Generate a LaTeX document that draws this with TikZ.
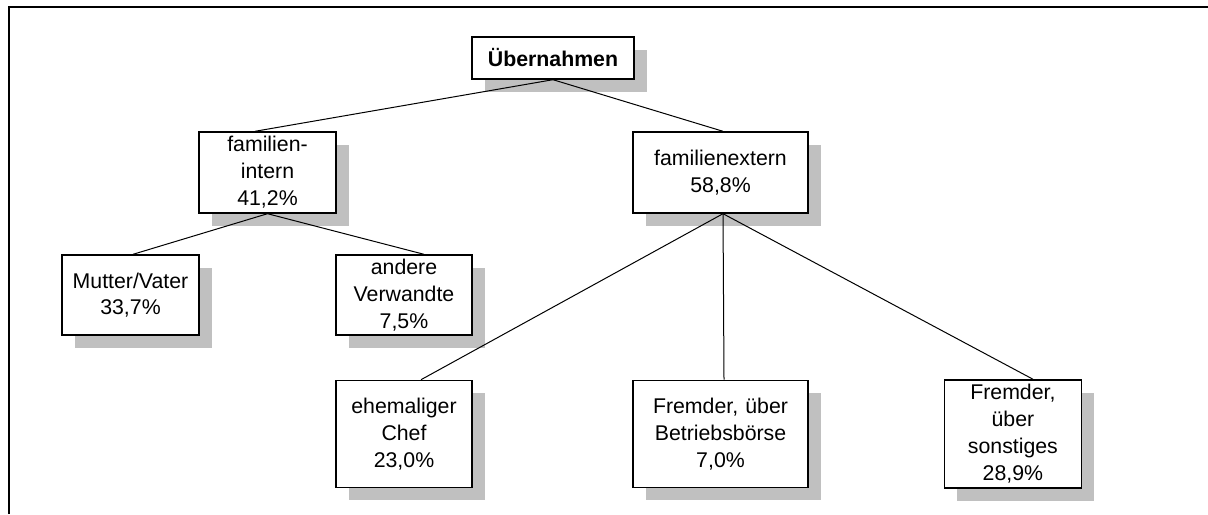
\documentclass[tikz,border=0pt]{standalone}
\usepackage{fontspec}
\setmainfont{Liberation Sans}
\usepackage{tikz}
\usetikzlibrary{positioning, shadows, calc}
\definecolor{shadowgray}{RGB}{192,192,192}
\tikzset{
  x=0.5pt, y=-0.5pt,
  every node/.style={font=\fontsize{10.65pt}{13.5pt}\selectfont},
  orgbox/.style={draw, line width=0.7pt, fill=white, align=center, inner sep=0pt,
    drop shadow={shadow xshift=6.5pt, shadow yshift=-6.5pt, fill=shadowgray, opacity=1}},
  link/.style={line width=0.5pt},
}

\begin{document}
\begin{tikzpicture}
		\useasboundingbox (0,0) rectangle (1208,514);
		\draw[line width=1pt] (9,514) -- (9,7) -- (1208,7);

		% boxes
		\node[orgbox, text width=81pt, minimum height=21pt] (top) at (553,58) {\bfseries Übernahmen};
		\node[orgbox, text width=68.5pt, minimum height=40.5pt] (fi) at (267.5,172.5) {familien-\\intern\\41,2\%};
		\node[orgbox, text width=87.5pt, minimum height=40.5pt] (fe) at (720.5,172.5) {familienextern\\58,8\%};
		\node[orgbox, text width=68.5pt, minimum height=40pt] (mv) at (130.5,295) {Mutter/Vater\\[-0.5pt]33,7\%};
		\node[orgbox, text width=68pt, minimum height=40pt] (av) at (404,295) {andere\\Verwandte\\7,5\%};
		\node[orgbox, text width=68pt, minimum height=53.5pt, below=22pt of av] (ec) {ehemaliger\\Chef\\23,0\%};
		\node[orgbox, text width=87.5pt, minimum height=53.5pt, below=83pt of fe] (fb) {Fremder, über\\Betriebsbörse\\7,0\%};
		\node[orgbox, text width=68.5pt, minimum height=54pt, right=67.5pt of fb] (fs) {Fremder,\\über\\sonstiges\\28,9\%};

		% lines
		\draw[link] (top.south) -- ($(fi.north)+(-6.25pt,0pt)$);
		\draw[link] (top.south) -- ($(fe.north)+(1.25pt,0pt)$);
		\draw[link] (fi.south) -- ($(mv.north)+(1.25pt,0pt)$);
		\draw[link] (fi.south) -- ($(av.north)+(10pt,0pt)$);
		\draw[link] ($(fe.south)+(1.25pt,0pt)$) -- ($(ec.north)+(8.5pt,0pt)$);
		\draw[link] ($(fe.south)+(1.25pt,0pt)$) -- ($(fb.north)+(1.75pt,0pt)$);
		\draw[link] ($(fe.south)+(1.25pt,0pt)$) -- ($(fs.north)+(10pt,0pt)$);

	\end{tikzpicture}
\end{document}
